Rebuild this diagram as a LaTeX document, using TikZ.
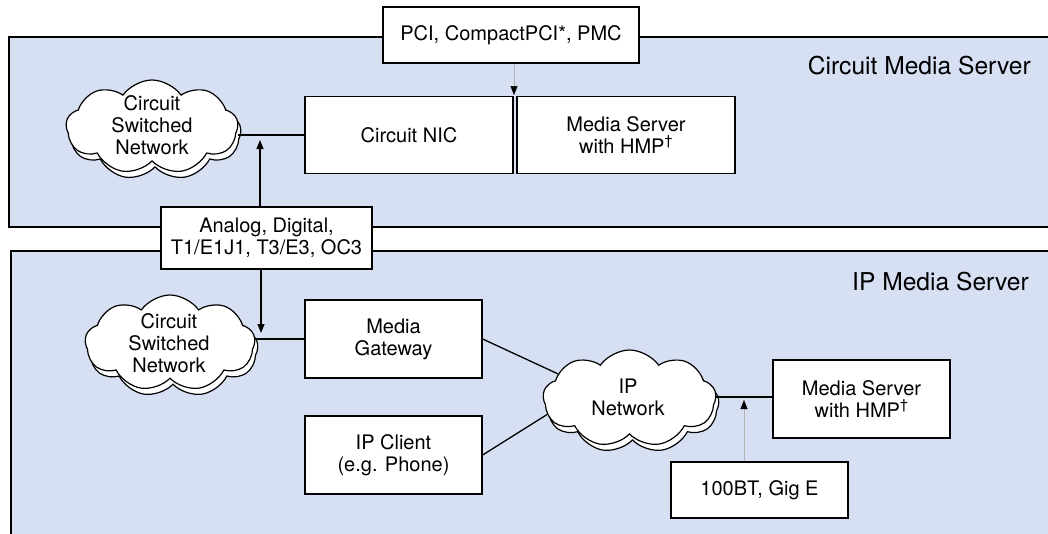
\documentclass[tikz,border=0pt]{standalone}
\usepackage{fontspec}
\setmainfont{TeX Gyre Heros}
\usetikzlibrary{shapes.symbols,arrows.meta}
\definecolor{panelblue}{RGB}{215,223,243}
\newcommand\diagfont{\fontsize{20}{22}\selectfont}
\newcommand\headfont{\fontsize{24.6}{28}\selectfont}
\begin{document}
\begin{tikzpicture}[x=1pt,y=-1pt,
  panelfill/.style={fill=panelblue},
  paneledge/.style={draw, line width=1.3pt},
  box/.style={draw, fill=white, line width=1.3pt, align=center, font=\diagfont, inner sep=0pt},
  cloudbody/.style={cloud, cloud puffs=9, cloud puff arc=110, cloud ignores aspect,
    draw, fill=white, line width=1.2pt, inner sep=0pt},
  cloudtext/.style={align=center, font=\diagfont, inner sep=0pt},
  heading/.style={anchor=east, font=\headfont, inner sep=0pt},
  link/.style={line width=1.3pt},
  blackarrow/.style={line width=1.2pt, -{Triangle[length=9pt,width=7pt]}},
  greyarrow/.style={draw=gray!60, line width=0.5pt, -{Triangle[length=9pt,width=7pt,color=black]}}]
\useasboundingbox (0,0) rectangle (1048,533);

% the two server panels (open on the right and at the bottom)
\fill[panelfill] (9,37) rectangle (1060,227);
\draw[paneledge] (1060,37) -- (9,37) -- (9,227) -- (1060,227);
\fill[panelfill] (11,251) rectangle (1060,545);
\draw[paneledge] (1060,251) -- (11,251) -- (11,545);

\node[heading] (cmstitle) at (1031,66) {Circuit Media Server};
\node[heading] (ipmstitle) at (1029,282) {IP Media Server};

% boxes
\node[box, minimum width=256pt, minimum height=56pt] (pci) at (511,35) {PCI, CompactPCI*, PMC};
\node[box, minimum width=208pt, minimum height=77pt] (nic) at (409,135) {Circuit NIC};
\node[box, minimum width=218pt, minimum height=77pt] (mstop) at (626,135) {Media Server\\with HMP\textsuperscript{\textdagger}};
\node[box, minimum width=211pt, minimum height=62pt] (analog) at (266.5,238) {Analog, Digital,\\T1/E1J1, T3/E3, OC3};
\node[box, minimum width=177pt, minimum height=78pt] (gateway) at (393.5,339) {Media\\Gateway};
\node[box, minimum width=177pt, minimum height=78pt] (client) at (393.5,455) {IP Client\\(e.g. Phone)};
\node[box, minimum width=177pt, minimum height=78pt] (msbot) at (861.5,399) {Media Server\\with HMP\textsuperscript{\textdagger}};
\node[box, minimum width=177pt, minimum height=56pt] (gige) at (759.5,490) {100BT, Gig E};

% clouds, each with a shifted copy underneath
\node[cloudbody, minimum width=172pt, minimum height=94pt] (csnAshadow) at (155,133) {};
\node[cloudbody, minimum width=172pt, minimum height=94pt] (csnA) at (152,127) {};
\node[cloudtext] (csnAtext) at (152,125) {Circuit\\Switched\\Network};

\node[cloudbody, minimum width=170pt, minimum height=96pt] (csnBshadow) at (173,349) {};
\node[cloudbody, minimum width=170pt, minimum height=96pt] (csnB) at (170,343) {};
\node[cloudtext] (csnBtext) at (169,343) {Circuit\\Switched\\Network};

\node[cloudbody, minimum width=173pt, minimum height=97pt] (ipnetshadow) at (632.5,404.5) {};
\node[cloudbody, minimum width=173pt, minimum height=97pt] (ipnet) at (629.5,398.5) {};
\node[cloudtext] (ipnettext) at (628,397) {IP\\Network};

% arrow tip positions
\coordinate (pcitip) at (514,95);
\coordinate (uptip) at (260,140);
\coordinate (downtip) at (261,333);
\coordinate (gigetip) at (744,400);

% connectors
\draw[link] (nic.west) -- (nic.west -| csnA.east);
\draw[link] (gateway.west) -- (gateway.west -| csnB.east);
\draw[link] (gateway.east) -- (ipnet.161);
\draw[link] (client.east) -- (ipnet.191);
\draw[link] (msbot.west |- 0,397) -- (ipnet.east |- 0,397);
\draw[greyarrow] (pci.south -| pcitip) -- (pcitip);
\draw[blackarrow] (analog.north -| uptip) -- (uptip);
\draw[blackarrow] (analog.south -| downtip) -- (downtip);
\draw[greyarrow] (gige.north -| gigetip) -- (gigetip);
\end{tikzpicture}
\end{document}
